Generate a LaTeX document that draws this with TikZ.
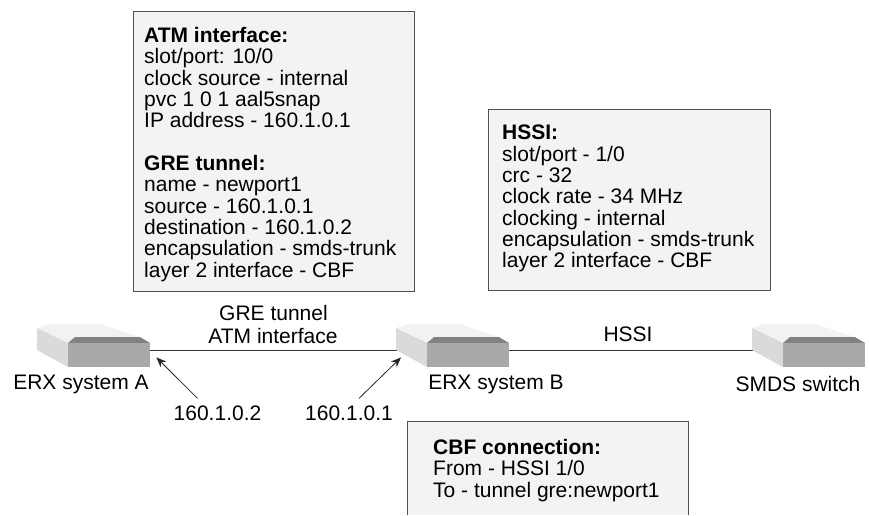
\documentclass[tikz,border=0pt]{standalone}
\usepackage{fontspec}
\setmainfont{Liberation Sans}
\usetikzlibrary{arrows.meta}
\definecolor{boxfill}{HTML}{F3F3F3}
\definecolor{boxline}{HTML}{505050}
\definecolor{devtop}{HTML}{F2F2F2}
\definecolor{devleft}{HTML}{DADADA}
\definecolor{devfront}{HTML}{A9A9A9}
\definecolor{devband}{HTML}{828282}
\tikzset{
  x=1pt,y=-1pt,
  txt/.style={font=\fontsize{21pt}{21.35pt}\selectfont,inner sep=0pt,text=black},
  infotext/.style={txt,align=left,anchor=north west},
  infobox/.style={draw=boxline,fill=boxfill,line width=1pt},
  link/.style={draw=black!80,line width=1.1pt},
  pointer/.style={draw=black!85,line width=0.8pt,-{Stealth[length=10pt,width=8pt]}},
  devanchor/.style={inner sep=0pt,minimum width=82pt,minimum height=15pt,anchor=north west},
}
\newcommand{\devshape}[1]{%
  \begin{scope}[shift={(#1,0)}]
    \fill[devtop] (37,328) -- (50,324) -- (100,324) -- (140,337) -- (75,337) -- (68,343) -- cycle;
    \fill[devleft] (37,328) -- (68,343) -- (68,367) -- (37,350) -- cycle;
    \fill[devband] (68,343) -- (75,337) -- (140,337) -- (150,343) -- cycle;
    \fill[devfront] (68,343) rectangle (150,367);
  \end{scope}}
\begin{document}
\begin{tikzpicture}
\useasboundingbox (0,0) rectangle (869,515);
% device anchors
\node[devanchor] (erxa) at (68,343) {};
\node[devanchor] (erxb) at (427,343) {};
\node[devanchor] (smds) at (783,343) {};
% connectors
\draw[link] (erxa.east) -- (erxb.west);
\draw[link] (erxb.east) -- (smds.west);
% devices
\devshape{0}
\devshape{359}
\devshape{715}
% info boxes
\filldraw[infobox] (133.5,11) rectangle (414,291);
\filldraw[infobox] (488,109) rectangle (770,290);
\fill[boxfill] (407,421) rectangle (688,515);
\draw[boxline,line width=1pt] (407,515) -- (407,421) -- (688,421) -- (688,515);
\node[infotext] (atmtext) at (144,27) {\textbf{ATM interface:}\\slot/port: 10/0\\clock source - internal\\pvc 1 0 1 aal5snap\\IP address - 160.1.0.1\\[21.35pt]\textbf{GRE tunnel:}\\name - newport1\\source - 160.1.0.1\\destination - 160.1.0.2\\encapsulation - smds-trunk\\layer 2 interface - CBF};
\node[infotext] (hssitext) at (502,125) {\textbf{HSSI:}\\slot/port - 1/0\\crc - 32\\clock rate - 34 MHz\\clocking - internal\\encapsulation - smds-trunk\\layer 2 interface - CBF};
\node[infotext] (cbftext) at (433,439) {\textbf{CBF connection:}\\From - HSSI 1/0\\To - tunnel gre:newport1};
% labels
\node[txt] (lgre) at (273.5,313) {GRE tunnel};
\node[txt] (latm) at (273,336) {ATM interface};
\node[txt] (lhssi) at (628,334) {HSSI};
\node[txt] (na) at (81,384) {ERX system A};
\node[txt] (nb) at (496,384) {ERX system B};
\node[txt] (ns) at (798,384) {SMDS switch};
\node[txt] (ipa) at (217.5,413) {160.1.0.2};
\node[txt] (ipb) at (349,413) {160.1.0.1};
% pointers
\draw[pointer] ([shift={(-20,-7)}]ipa.north) -- ([shift={(6,-1)}]erxa.south east);
\draw[pointer] ([shift={(10,-7)}]ipb.north) -- ([shift={(-26,-1)}]erxb.south west);
\end{tikzpicture}
\end{document}
